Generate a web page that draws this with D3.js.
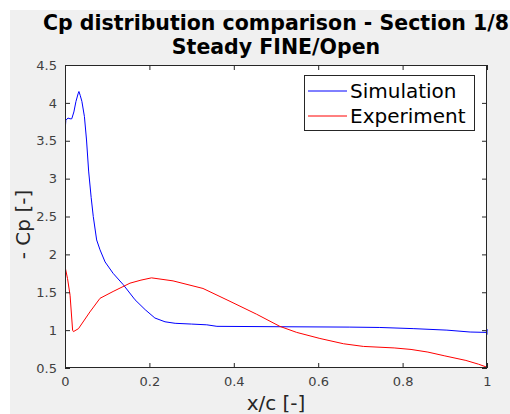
<!DOCTYPE html>
<html><head><meta charset="utf-8">
<script src="https://cdn.jsdelivr.net/npm/d3@7"></script>
<style>body{margin:0;background:#fff}svg{display:block}</style>
</head><body>
<script>
const titleLines = ["Cp distribution comparison - Section 1/8", "Steady FINE/Open"];
const xLabel = "x/c [-]";
const yLabel = "- Cp [-]";
const seriesNames = ["Simulation", "Experiment"];
const seriesColors = ["#0000ff", "#ff0000"];
const xTicks = [0, 0.2, 0.4, 0.6, 0.8, 1];
const yTicks = [0.5, 1, 1.5, 2, 2.5, 3, 3.5, 4, 4.5];

const simX = [0, 0.002, 0.007, 0.012, 0.016, 0.021, 0.026, 0.031, 0.033, 0.036, 0.040, 0.046, 0.051, 0.056, 0.062, 0.067, 0.075, 0.083, 0.095, 0.114, 0.138, 0.166, 0.190, 0.213, 0.237, 0.261, 0.30, 0.336, 0.36, 0.50, 0.675, 0.746, 0.825, 0.905, 0.96, 0.998, 1.0, 1.0];
const simCp = [3.62, 3.77, 3.80, 3.79, 3.79, 3.88, 4.02, 4.12, 4.15, 4.10, 4.02, 3.82, 3.51, 3.10, 2.75, 2.50, 2.19, 2.06, 1.90, 1.75, 1.60, 1.40, 1.27, 1.16, 1.11, 1.09, 1.08, 1.07, 1.05, 1.045, 1.04, 1.035, 1.02, 1.00, 0.975, 0.97, 1.01, 0.94];

const expX = [0, 0.006, 0.012, 0.018, 0.020, 0.032, 0.059, 0.083, 0.114, 0.154, 0.18, 0.205, 0.256, 0.327, 0.391, 0.454, 0.509, 0.549, 0.604, 0.66, 0.707, 0.78, 0.82, 0.86, 0.90, 0.95, 0.98, 1.0];
const expCp = [1.84, 1.68, 1.46, 1.0, 0.98, 1.02, 1.24, 1.42, 1.51, 1.62, 1.66, 1.69, 1.65, 1.55, 1.38, 1.21, 1.05, 0.97, 0.89, 0.82, 0.785, 0.765, 0.745, 0.71, 0.66, 0.60, 0.55, 0.51];

const W = 510, H = 414;
const L = 65, T = 65, R = 487, B = 368;
const axisColor = "#262626";
const font = "DejaVu Sans, sans-serif";

const svg = d3.select("body").append("svg").attr("width", W).attr("height", H);
svg.append("rect").attr("x", 10).attr("y", 10).attr("width", W - 10).attr("height", H - 10).attr("fill", "#f0f0f0");

const x = d3.scaleLinear().domain([0, 1]).range([L, R]);
const y = d3.scaleLinear().domain([0.5, 4.5]).range([B, T]);

svg.append("rect").attr("x", L).attr("y", T).attr("width", R - L).attr("height", B - T).attr("fill", "#fff");

svg.append("clipPath").attr("id", "clip").append("rect")
  .attr("x", L).attr("y", T - 2).attr("width", R - L + 2).attr("height", B - T + 4);

const line = d3.line().x(d => x(d[0])).y(d => y(d[1]));
const series = [d3.zip(simX, simCp), d3.zip(expX, expCp)];
const g = svg.append("g").attr("clip-path", "url(#clip)");
series.forEach((s, i) => {
  g.append("path").datum(s).attr("d", line).attr("fill", "none")
    .attr("stroke", seriesColors[i]).attr("stroke-width", 1);
});

function styleAxis(sel, showLabels) {
  sel.select(".domain").remove();
  sel.selectAll(".tick line").attr("stroke", axisColor);
  sel.selectAll(".tick text").attr("fill", showLabels ? "#404040" : "none")
    .style("font-family", font).style("font-size", "13px");
}
const fmt = d3.format("");
svg.append("g").attr("transform", `translate(0,${B})`)
  .call(d3.axisBottom(x).tickValues(xTicks).tickSizeInner(-5).tickSizeOuter(0).tickPadding(9).tickFormat(fmt))
  .call(s => styleAxis(s, true));
svg.append("g").attr("transform", `translate(0,${T})`)
  .call(d3.axisTop(x).tickValues(xTicks).tickSizeInner(-5).tickSizeOuter(0).tickFormat(""))
  .call(s => styleAxis(s, false));
svg.append("g").attr("transform", `translate(${L},0)`)
  .call(d3.axisLeft(y).tickValues(yTicks).tickSizeInner(-5).tickSizeOuter(0).tickPadding(8).tickFormat(fmt))
  .call(s => styleAxis(s, true));
svg.append("g").attr("transform", `translate(${R},0)`)
  .call(d3.axisRight(y).tickValues(yTicks).tickSizeInner(-5).tickSizeOuter(0).tickFormat(""))
  .call(s => styleAxis(s, false));

svg.append("rect").attr("x", L + 0.5).attr("y", T + 0.5).attr("width", R - L - 1).attr("height", B - T - 1)
  .attr("fill", "none").attr("stroke", axisColor).attr("stroke-width", 1);

// Title
titleLines.forEach((t, i) => {
  svg.append("text").attr("x", (L + R) / 2).attr("y", 30 + i * 24)
    .attr("text-anchor", "middle").style("font-family", font).style("font-weight", "bold")
    .style("font-size", "20.5px").attr("fill", "#000").text(t);
});

svg.append("text").attr("x", (L + R) / 2).attr("y", 410).attr("text-anchor", "middle")
  .style("font-family", font).style("font-size", "20px").attr("fill", "#262626").text(xLabel);
svg.append("text").attr("transform", `translate(30,${(T + B) / 2 + 8}) rotate(-90)`).attr("text-anchor", "middle")
  .style("font-family", font).style("font-size", "20px").attr("fill", "#262626").text(yLabel);

// Legend
const lg = svg.append("g");
lg.append("rect").attr("x", 304.5).attr("y", 75.5).attr("width", 170).attr("height", 55)
  .attr("fill", "#fff").attr("stroke", axisColor).attr("stroke-width", 1);
seriesNames.forEach((n, i) => {
  const yy = 91 + i * 25;
  lg.append("line").attr("x1", 308).attr("x2", 347).attr("y1", yy).attr("y2", yy)
    .attr("stroke", seriesColors[i]).attr("stroke-width", 1);
  lg.append("text").attr("x", 350).attr("y", yy).attr("dy", "0.35em")
    .style("font-family", font).style("font-size", "20px").attr("fill", "#000").text(n);
});
</script>
</body></html>
